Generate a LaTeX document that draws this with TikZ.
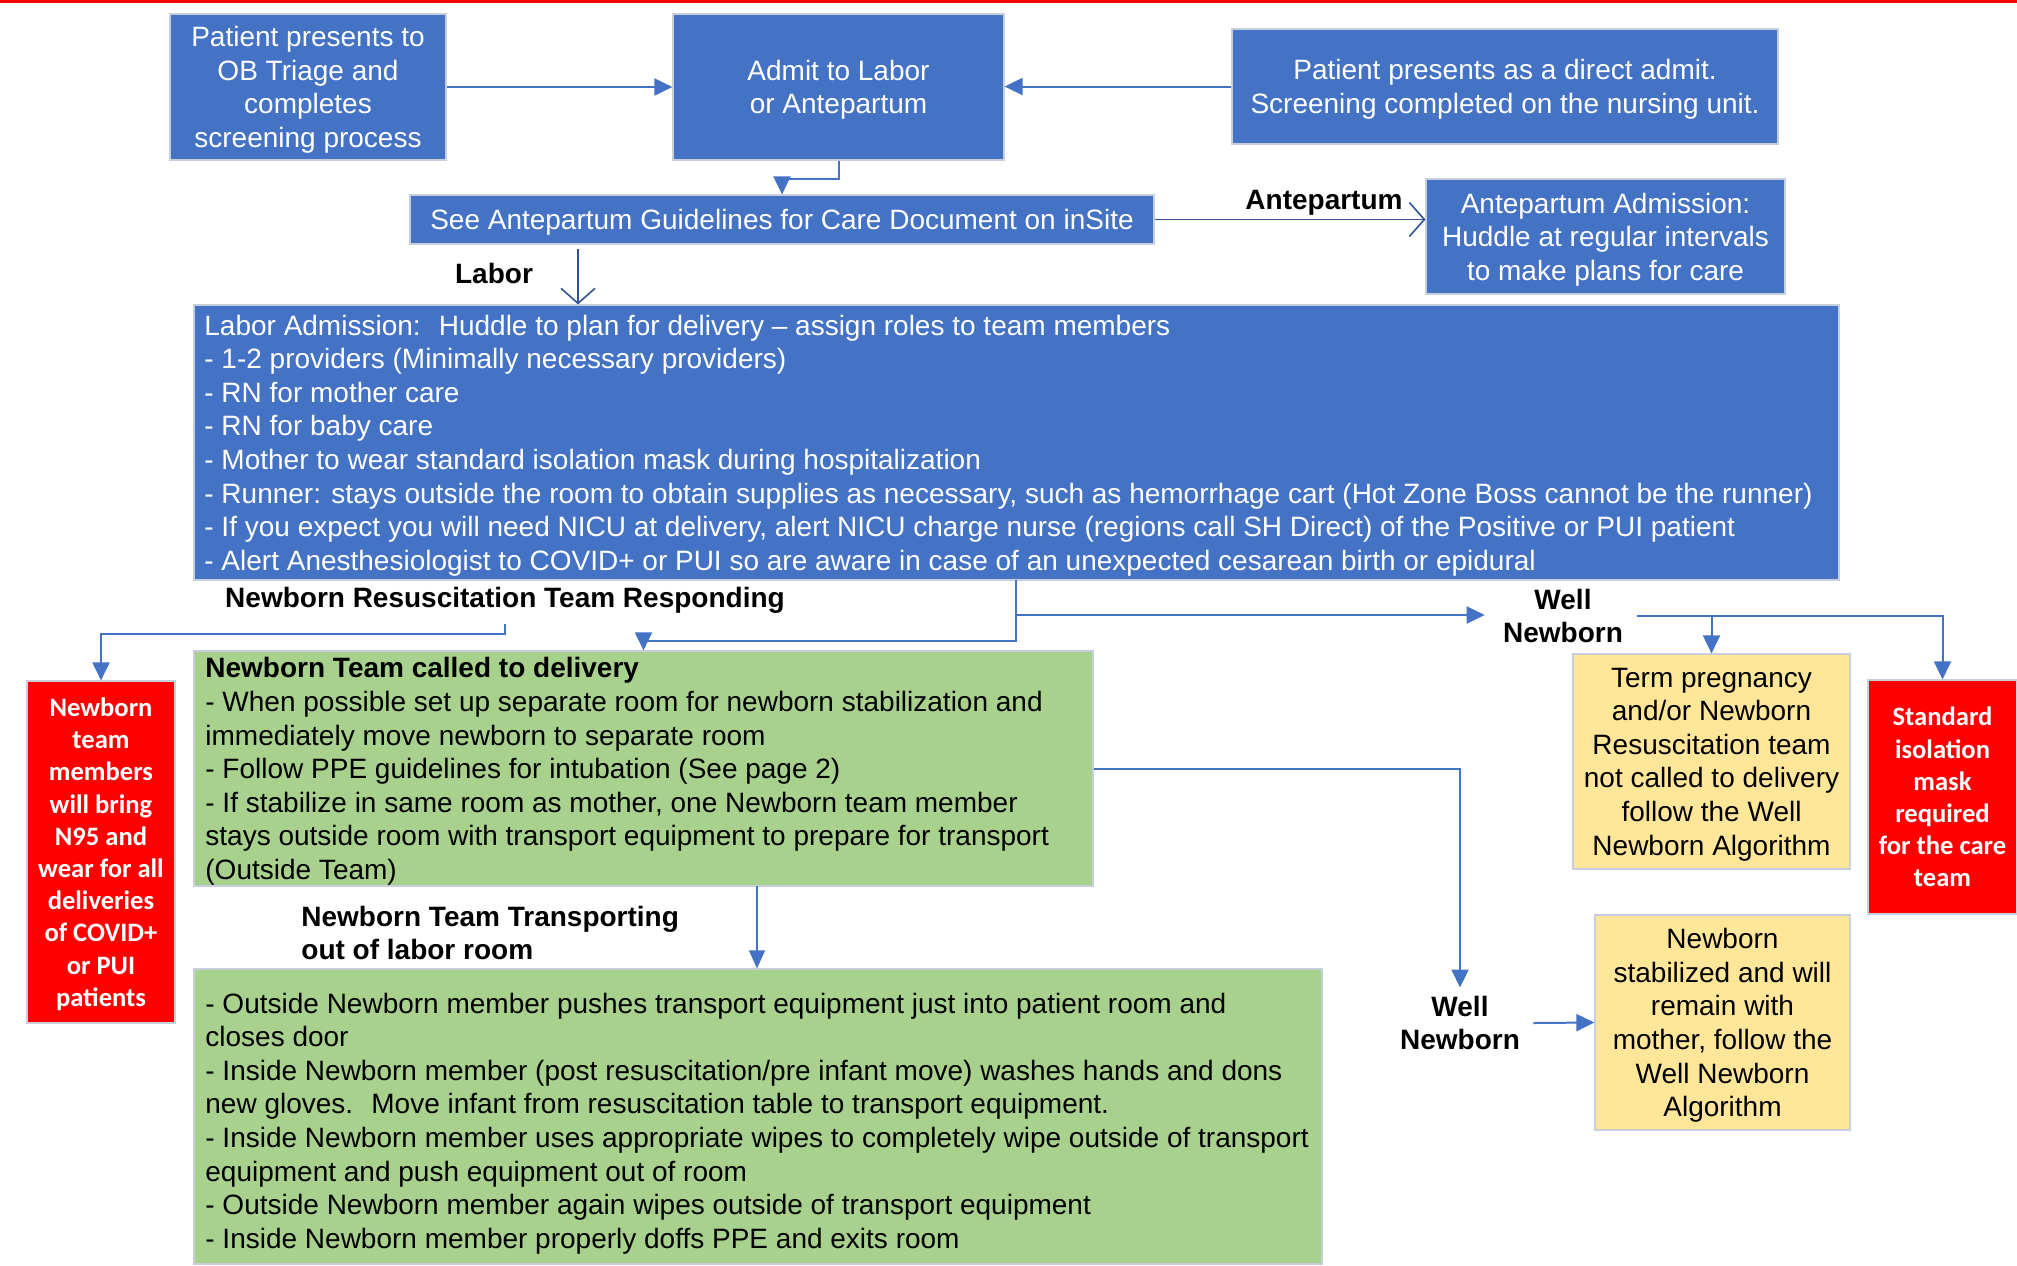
\documentclass[tikz,border=0pt]{standalone}
\usepackage{fontspec}
\setmainfont{Liberation Sans}
\newfontfamily\cali{Carlito}
\usetikzlibrary{arrows.meta}
\definecolor{obBlue}{HTML}{4472C4}
\definecolor{obGreen}{HTML}{A9D18E}
\definecolor{obYellow}{HTML}{FFE699}
\definecolor{obRed}{HTML}{FF0000}
\definecolor{obDark}{HTML}{2F5597}
\definecolor{obEdge}{HTML}{C8CFDC}
\begin{document}
\begin{tikzpicture}[x=0.5pt,y=-0.5pt,
  every node/.style={font=\fontsize{14}{16.8}\selectfont},
  sz/.style 2 args={minimum width=#1*0.5pt, minimum height=#2*0.5pt},
  boxbase/.style={inner sep=0pt, draw=obEdge, line width=0.6pt, text depth=0pt},
  bluebox/.style={boxbase, fill=obBlue, text=white, align=center},
  greenbox/.style={boxbase, fill=obGreen},
  yellowbox/.style={boxbase, fill=obYellow, align=center},
  redbox/.style={boxbase, fill=obRed, text=white, align=center, font=\cali\bfseries\fontsize{13.3}{16.1}\selectfont},
  lbl/.style={font=\bfseries\fontsize{14}{16.8}\selectfont, align=center, inner sep=0pt},
  bodytext/.style={anchor=west, align=left, inner sep=0pt, text depth=0pt},
  conn/.style={draw=obBlue, line width=1pt, -{Triangle[length=9pt,width=8.5pt]}},
  thinconn/.style={draw=obBlue, line width=0.7pt, -{Triangle[length=9pt,width=8pt]}},
  barb/.style={draw=obDark, line width=0.8pt, -{Straight Barb[length=7.5pt,width=17pt]}},
]
\useasboundingbox (0,0) rectangle (2017,1265);
\fill[obRed] (0,0) rectangle (2017,3);

% top row
\node[bluebox, sz={276}{146}] (tri) at (308,87) {Patient presents to\\OB Triage and\\completes\\screening process};
\node[bluebox, sz={331}{146}] (admit) at (838.5,87) {Admit to Labor\\or Antepartum};
\node[bluebox, sz={546}{115}] (direct) at (1505,86.5) {Patient presents as a direct admit.\\Screening completed on the nursing unit.};
\node[bluebox, sz={744}{49}] (see) at (782,219.5) {See Antepartum Guidelines for Care Document on inSite};
\node[bluebox, sz={359}{115}] (ante) at (1605.5,236.5) {Antepartum Admission:\\Huddle at regular intervals\\to make plans for care};

% labor box
\node[bluebox, sz={1645}{275}] (labor) at (1016.5,442.5) {};
\node[bodytext, text=white] (labortxt) at (204,442.5) {Labor Admission:~ Huddle to plan for delivery – assign roles to team members\\
- 1-2 providers (Minimally necessary providers)\\
- RN for mother care\\
- RN for baby care\\
- Mother to wear standard isolation mask during hospitalization\\
- Runner: stays outside the room to obtain supplies as necessary, such as hemorrhage cart (Hot Zone Boss cannot be the runner)\\
- If you expect you will need NICU at delivery, alert NICU charge nurse (regions call SH Direct) of the Positive or PUI patient\\
- Alert Anesthesiologist to COVID+ or PUI so are aware in case of an unexpected cesarean birth or epidural};

% green boxes
\node[greenbox, sz={899}{235}] (g1) at (643.5,768.5) {};
\node[bodytext] (g1txt) at (205,768.5) {\textbf{Newborn Team called to delivery}\\
- When possible set up separate room for newborn stabilization and\\
immediately move newborn to separate room\\
- Follow PPE guidelines for intubation (See page 2)\\
- If stabilize in same room as mother, one Newborn team member\\
stays outside room with transport equipment to prepare for transport\\
(Outside Team)};
\node[greenbox, sz={1128}{295}] (g2) at (758,1116.5) {};
\node[bodytext] (g2txt) at (205,1120.5) {- Outside Newborn member pushes transport equipment just into patient room and\\
closes door\\
- Inside Newborn member (post resuscitation/pre infant move) washes hands and dons\\
new gloves.~ Move infant from resuscitation table to transport equipment.\\
- Inside Newborn member uses appropriate wipes to completely wipe outside of transport\\
equipment and push equipment out of room\\
- Outside Newborn member again wipes outside of transport equipment\\
- Inside Newborn member properly doffs PPE and exits room};

% yellow and red boxes
\node[yellowbox, sz={277}{215}] (y1) at (1711.5,761.5) {Term pregnancy\\and/or Newborn\\Resuscitation team\\not called to delivery\\follow the Well\\Newborn Algorithm};
\node[yellowbox, sz={255}{215}] (y2) at (1722.5,1022.5) {Newborn\\stabilized and will\\remain with\\mother, follow the\\Well Newborn\\Algorithm};
\node[redbox, sz={148}{342}] (r1) at (101,852) {Newborn\\team\\members\\will bring\\N95 and\\wear for all\\deliveries\\of COVID+\\or PUI\\patients};
\node[redbox, sz={149}{234}] (r2) at (1942.5,797) {Standard\\isolation\\mask\\required\\for the care\\team};

% labels
\node[lbl] (lablabor) at (494,273) {Labor};
\node[lbl] (labante) at (1324,203) {Antepartum};
\node[lbl] (resus) at (505,600) {Newborn Resuscitation Team Responding};
\node[lbl] (wn1) at (1563,616) {Well\\Newborn};
\node[lbl, anchor=west, align=left] (trans) at (301,933) {Newborn Team Transporting\\out of labor room};
\node[lbl] (wn2) at (1460,1023) {Well\\Newborn};

% connectors
\draw[conn] (tri.east) -- (admit.west);
\draw[conn] (direct.west) -- (direct.west -| admit.east);
\draw[conn] (admit.south) -- ++(0,18) -| (see.north);
\coordinate (lbtop) at (578,249);
\draw[barb] (lbtop) -- (lbtop |- labor.north);
\draw[barb] (see.east) -- (see.east -| ante.west);

\coordinate (lbx) at (1016,580);
\coordinate (wsplit) at (1016,615);
\draw[conn] (lbx) -- ++(0,61) -| (g1.north);
\draw[conn, shorten >=9pt] (wsplit) -- (wsplit -| wn1.west);
\draw[conn] ([xshift=7pt]wn1.east) -| (y1.north);
\draw[conn] ([xshift=7pt]wn1.east) -| (r2.north);
\draw[conn] ([yshift=-5pt]resus.south) -- ++(0,10) -| (r1.north);
\draw[conn] (g1.east) -| ([yshift=4pt]wn2.north);
\draw[conn] ([xshift=6.5pt]wn2.east) -- (y2.west);
\coordinate (g1b) at (757,886);
\draw[thinconn] (g1b) -- (g1b |- g2.north);
\end{tikzpicture}
\end{document}
